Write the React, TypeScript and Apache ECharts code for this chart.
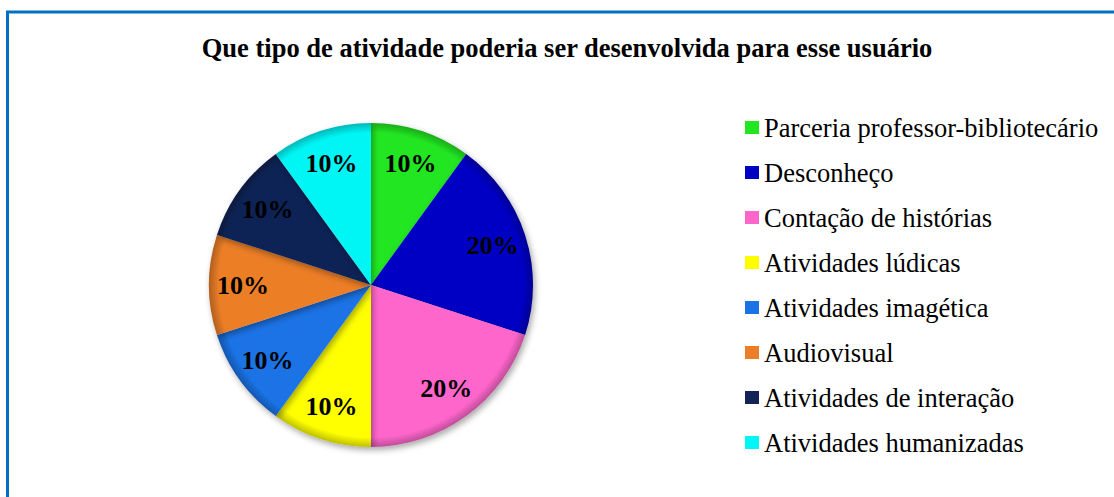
import React, { useEffect, useRef } from "react";
import * as echarts from "echarts";

const title = "Que tipo de atividade poderia ser desenvolvida para esse usuário";
const categories = [
  "Parceria professor-bibliotecário",
  "Desconheço",
  "Contação de histórias",
  "Atividades lúdicas",
  "Atividades imagética",
  "Audiovisual",
  "Atividades de interação",
  "Atividades humanizadas",
];
const values = [10, 20, 20, 10, 10, 10, 10, 10];
const colors = ["#22E622", "#0000C4", "#FF66CC", "#FFFF00", "#1A73E6", "#EC7E28", "#112455", "#00F5F5"];

const CX = 371;
const CY = 285;
const R = 162;
const SERIF = "'Times New Roman', 'Liberation Serif', serif";

function shade(hex: string, f: number) {
  const n = parseInt(hex.slice(1), 16);
  const r = Math.round(((n >> 16) & 255) * f);
  const g = Math.round(((n >> 8) & 255) * f);
  const b = Math.round((n & 255) * f);
  return `rgb(${r},${g},${b})`;
}

export default function App() {
  const ref = useRef<HTMLDivElement>(null);
  useEffect(() => {
    if (!ref.current) return;
    const chart = echarts.init(ref.current, undefined, { renderer: "svg" });
    const pieData = categories.map((name, i) => ({
      name,
      value: values[i],
      itemStyle: {
        color: {
          type: "radial",
          x: CX,
          y: CY,
          r: R,
          global: true,
          colorStops: [
            { offset: 0, color: colors[i] },
            { offset: 0.94, color: colors[i] },
            { offset: 1, color: shade(colors[i], 0.75) },
          ],
        },
      },
    }));
    chart.setOption({
      animation: false,
      textStyle: { fontFamily: SERIF },
      title: {
        text: title,
        left: 567,
        textAlign: "center",
        top: 34,
        padding: 0,
        textStyle: {
          fontFamily: SERIF,
          fontWeight: "bold",
          fontSize: 26.5,
          color: "#000",
        },
      },
      graphic: [
        {
          type: "rect",
          shape: { x: 7.5, y: 12, width: 1300, height: 700 },
          style: { fill: "none", stroke: "#0070C0", lineWidth: 3 },
          silent: true,
        },
      ],
      legend: {
        orient: "vertical",
        left: 745,
        top: 114,
        padding: 0,
        itemWidth: 14,
        itemHeight: 13,
        itemGap: 18,
        icon: "rect",
        data: categories.map((name, i) => ({
          name,
          itemStyle: { color: colors[i] },
        })),
        textStyle: {
          fontFamily: SERIF,
          fontSize: 26.5,
          color: "#000",
          lineHeight: 27,
        },
      },
      series: [
        {
          type: "pie",
          center: [CX, CY],
          radius: [0, R],
          startAngle: 90,
          clockwise: true,
          silent: true,
          label: { show: false },
          labelLine: { show: false },
          itemStyle: {
            borderWidth: 0,
            shadowBlur: 6,
            shadowColor: "rgba(0,0,0,0.35)",
            shadowOffsetX: 2,
            shadowOffsetY: 3,
          },
          data: pieData,
        },
        {
          type: "pie",
          center: [CX, CY],
          radius: [88, R],
          startAngle: 90,
          clockwise: true,
          silent: true,
          itemStyle: { color: "rgba(0,0,0,0)" },
          label: {
            show: true,
            position: "inside",
            formatter: (p: any) => `${p.value}%`,
            fontFamily: SERIF,
            fontWeight: "bold",
            fontSize: 26,
            color: "#000",
          },
          labelLine: { show: false },
          data: categories.map((name, i) => ({ name, value: values[i] })),
        },
      ],
    });
    return () => chart.dispose();
  }, []);
  return (
    <div
      ref={ref}
      style={{ position: "fixed", left: 0, top: 0, width: 1114, height: 497, background: "#fff" }}
    />
  );
}
